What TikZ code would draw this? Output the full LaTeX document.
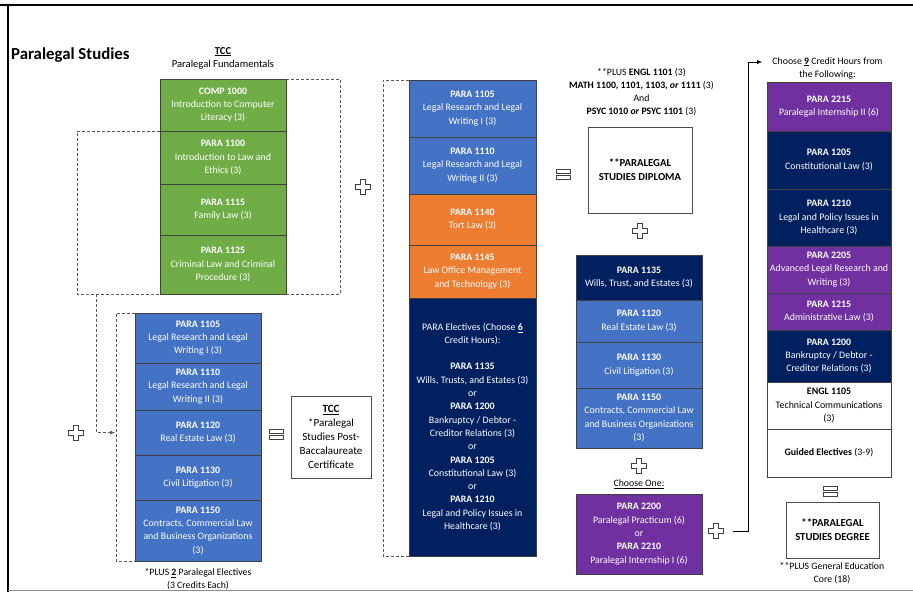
\documentclass[tikz,border=0pt]{standalone}
\usepackage{fontspec}
\setmainfont{Carlito}
\usetikzlibrary{positioning,calc,arrows.meta}
\definecolor{crsgreen}{HTML}{70AD47}
\definecolor{crsblue}{HTML}{4472C4}
\definecolor{crsorange}{HTML}{ED7D31}
\definecolor{crsnavy}{HTML}{002060}
\definecolor{crspurple}{HTML}{7030A0}
\tikzset{
  box/.style={draw=black!75,line width=0.6pt,inner sep=1pt,outer sep=0pt,align=center,
    text=white,font=\fontsize{9.9}{13.3}\selectfont},
  grn/.style={box,fill=crsgreen,minimum width=126pt},
  blu/.style={box,fill=crsblue,minimum width=126pt},
  org/.style={box,fill=crsorange,minimum width=127pt},
  nvy/.style={box,fill=crsnavy,minimum width=126pt},
  prp/.style={box,fill=crspurple,minimum width=126pt},
  wht/.style={box,fill=white,text=black,minimum width=124pt},
  award/.style={box,fill=white,text=black,draw=black!70},
  captxt/.style={align=center,inner sep=0pt,font=\fontsize{9.8}{13}\selectfont},
  dashline/.style={draw=black!65,line width=0.6pt,dash pattern=on 3pt off 2pt},
  pluspic/.pic={\draw[black!75,line width=0.6pt] (-2.5,-7.5) -- (2.5,-7.5) -- (2.5,-2.5) -- (7.5,-2.5)
    -- (7.5,2.5) -- (2.5,2.5) -- (2.5,7.5) -- (-2.5,7.5) -- (-2.5,2.5) -- (-7.5,2.5) -- (-7.5,-2.5)
    -- (-2.5,-2.5) -- cycle;},
  eqpic/.pic={\draw[black!75,line width=0.6pt] (-7,-5) rectangle (7,-1) (-7,1) rectangle (7,5);}
}
\begin{document}
\begin{tikzpicture}[x=1pt,y=-1pt,node distance=0pt]
  \useasboundingbox (0,0) rectangle (913,592);
  % frame
  \draw[line width=2.4pt] (0,5) -- (913,5);
  \draw[line width=2pt] (8,4) -- (8,592);
  \draw[black!45,line width=1.2pt] (8,590.6) -- (913,590.6);
  \node[anchor=base west,inner sep=0pt,font=\fontsize{16.8}{20}\selectfont\bfseries] (title) at (11,59) {Paralegal Studies};
  \node[captxt,font=\fontsize{10.6}{13}\selectfont] (tcc) at (223,58) {\underline{\textbf{TCC}}\\Paralegal Fundamentals};
  % green column
  \node[grn,minimum height=52pt,anchor=north] (g1) at (223,79) {\textbf{COMP 1000}\\Introduction to Computer\\Literacy (3)};
  \node[grn,minimum height=53pt,below=of g1] (g2) {\textbf{PARA 1100}\\Introduction to Law and\\Ethics (3)};
  \node[grn,minimum height=51pt,below=of g2] (g3) {\textbf{PARA 1115}\\Family Law (3)};
  \node[grn,minimum height=59pt,below=of g3] (g4) {\textbf{PARA 1125}\\Criminal Law and Criminal\\Procedure (3)};
  \draw[dashline] (g1.north east) -- ++(54,0) |- (g4.south east);
  \draw[dashline] (g2.north west) -- ++(-83,0) |- (g4.south west);
  % left blue column
  \node[blu,minimum height=50pt,anchor=north] (lb1) at (198,313) {\textbf{PARA 1105}\\Legal Research and Legal\\Writing I (3)};
  \node[blu,minimum height=47pt,below=of lb1] (lb2) {\textbf{PARA 1110}\\Legal Research and Legal\\Writing II (3)};
  \node[blu,minimum height=45pt,below=of lb2] (lb3) {\textbf{PARA 1120}\\Real Estate Law (3)};
  \node[blu,minimum height=45pt,below=of lb3] (lb4) {\textbf{PARA 1130}\\Civil Litigation (3)};
  \node[blu,minimum height=61pt,below=of lb4] (lb5) {\textbf{PARA 1150}\\Contracts, Commercial Law\\and Business Organizations\\(3)};
  \draw[dashline] (lb1.north west) -- ++(-19,0) |- (lb5.south west);
  \draw[dashline,-{Latex[length=5pt,width=4pt]}] ($(g4.south west)+(-64,0)$) |- ($(lb3.west)+(-20,0)$);
  \node[captxt] (lbcap) at (198,579) {*PLUS \underline{\textbf{2}} Paralegal Electives\\(3 Credits Each)};
  \pic at (76,433) {pluspic};
  \pic at (276,434) {eqpic};
  \node[award,minimum width=80pt,minimum height=82pt,font=\fontsize{11}{14}\selectfont] (cert) at (331,437)
    {\underline{\textbf{TCC}}\\*Paralegal\\Studies Post-\\Baccalaureate\\Certificate};
  \pic at (363,187) {pluspic};
  % middle column
  \node[blu,minimum width=127pt,minimum height=57pt,anchor=north] (m1) at (472.5,80) {\textbf{PARA 1105}\\Legal Research and Legal\\Writing I (3)};
  \node[blu,minimum width=127pt,minimum height=57pt,below=of m1] (m2) {\textbf{PARA 1110}\\Legal Research and Legal\\Writing II (3)};
  \node[org,minimum height=51pt,below=of m2] (m3) {\textbf{PARA 1140}\\Tort Law (3)};
  \node[org,minimum height=53pt,below=of m3] (m4) {\textbf{PARA 1145}\\Law Office Management\\and Technology (3)};
  \node[nvy,minimum width=127pt,minimum height=258pt,below=of m4] (m5) {PARA Electives (Choose \underline{\textbf{6}}\\Credit Hours):\\[13.1pt]
    \textbf{PARA 1135}\\Wills, Trusts, and Estates (3)\\or\\\textbf{PARA 1200}\\Bankruptcy / Debtor -\\Creditor Relations (3)\\or\\
    \textbf{PARA 1205}\\Constitutional Law (3)\\or\\\textbf{PARA 1210}\\Legal and Policy Issues in\\Healthcare (3)};
  \draw[dashline] (m1.north west) -- ++(-26,0) |- (m5.south west);
  \pic at (563,174) {eqpic};
  % diploma
  \node[captxt] (plusgen) at (641.5,92) {**PLUS \textbf{ENGL 1101} (3)\\\textbf{MATH 1100, 1101, 1103, \textit{or} 1111} (3)\\And\\\textbf{PSYC 1010 \textit{or} PSYC 1101} (3)};
  \node[award,minimum width=104pt,minimum height=86pt,font=\fontsize{10.7}{14}\selectfont\bfseries] (dipl) at (640,170) {**PARALEGAL\\STUDIES DIPLOMA};
  \pic at (640,231) {pluspic};
  \node[nvy,minimum height=45pt,anchor=north] (r1) at (639,255) {\textbf{PARA 1135}\\Wills, Trust, and Estates (3)};
  \node[blu,minimum height=42pt,below=of r1] (r2) {\textbf{PARA 1120}\\Real Estate Law (3)};
  \node[blu,minimum height=46pt,below=of r2] (r3) {\textbf{PARA 1130}\\Civil Litigation (3)};
  \node[blu,minimum height=60pt,below=of r3] (r4) {\textbf{PARA 1150}\\Contracts, Commercial Law\\and Business Organizations\\(3)};
  \pic at (639,466) {pluspic};
  \node[captxt] (one) at (639,484) {\underline{Choose One:}};
  \node[prp,minimum height=80pt] (pr) at (639,534) {\textbf{PARA 2200}\\Paralegal Practicum (6)\\or\\\textbf{PARA 2210}\\Paralegal Internship I (6)};
  \pic at (716,531) {pluspic};
  \coordinate (jn) at (733,531);
  % right column
  \node[captxt] (ch9) at (827.5,68) {Choose \underline{\textbf{9}} Credit Hours from\\the Following:};
  \node[prp,minimum width=124pt,minimum height=49pt,anchor=north] (c1) at (829,82) {\textbf{PARA 2215}\\Paralegal Internship II (6)};
  \node[nvy,minimum width=124pt,minimum height=58pt,below=of c1] (c2) {\textbf{PARA 1205}\\Constitutional Law (3)};
  \node[nvy,minimum width=124pt,minimum height=57pt,below=of c2] (c3) {\textbf{PARA 1210}\\Legal and Policy Issues in\\Healthcare (3)};
  \node[prp,minimum width=124pt,minimum height=47pt,below=of c3] (c4) {\textbf{PARA 2205}\\Advanced Legal Research and\\Writing (3)};
  \node[prp,minimum width=124pt,minimum height=37pt,below=of c4] (c5) {\textbf{PARA 1215}\\Administrative Law (3)};
  \node[nvy,minimum width=124pt,minimum height=52pt,below=of c5] (c6) {\textbf{PARA 1200}\\Bankruptcy / Debtor -\\Creditor Relations (3)};
  \node[wht,minimum height=47pt,below=of c6] (c7) {\textbf{ENGL 1105}\\Technical Communications\\(3)};
  \node[wht,minimum height=48pt,below=of c7] (c8) {\textbf{Guided Electives} (3-9)};
  \draw[-{Latex[length=5pt,width=4pt]}] (jn) -- ++(15,0) |- ($(c1.north west)+(-5,-20)$);
  \pic at (830,491) {eqpic};
  \node[award,minimum width=93pt,minimum height=56pt,font=\fontsize{10.7}{14}\selectfont\bfseries] (degr) at (832.5,530) {**PARALEGAL\\STUDIES DEGREE};
  \node[captxt] (gencap) at (832,573.5) {**PLUS General Education\\Core (18)};
\end{tikzpicture}
\end{document}
